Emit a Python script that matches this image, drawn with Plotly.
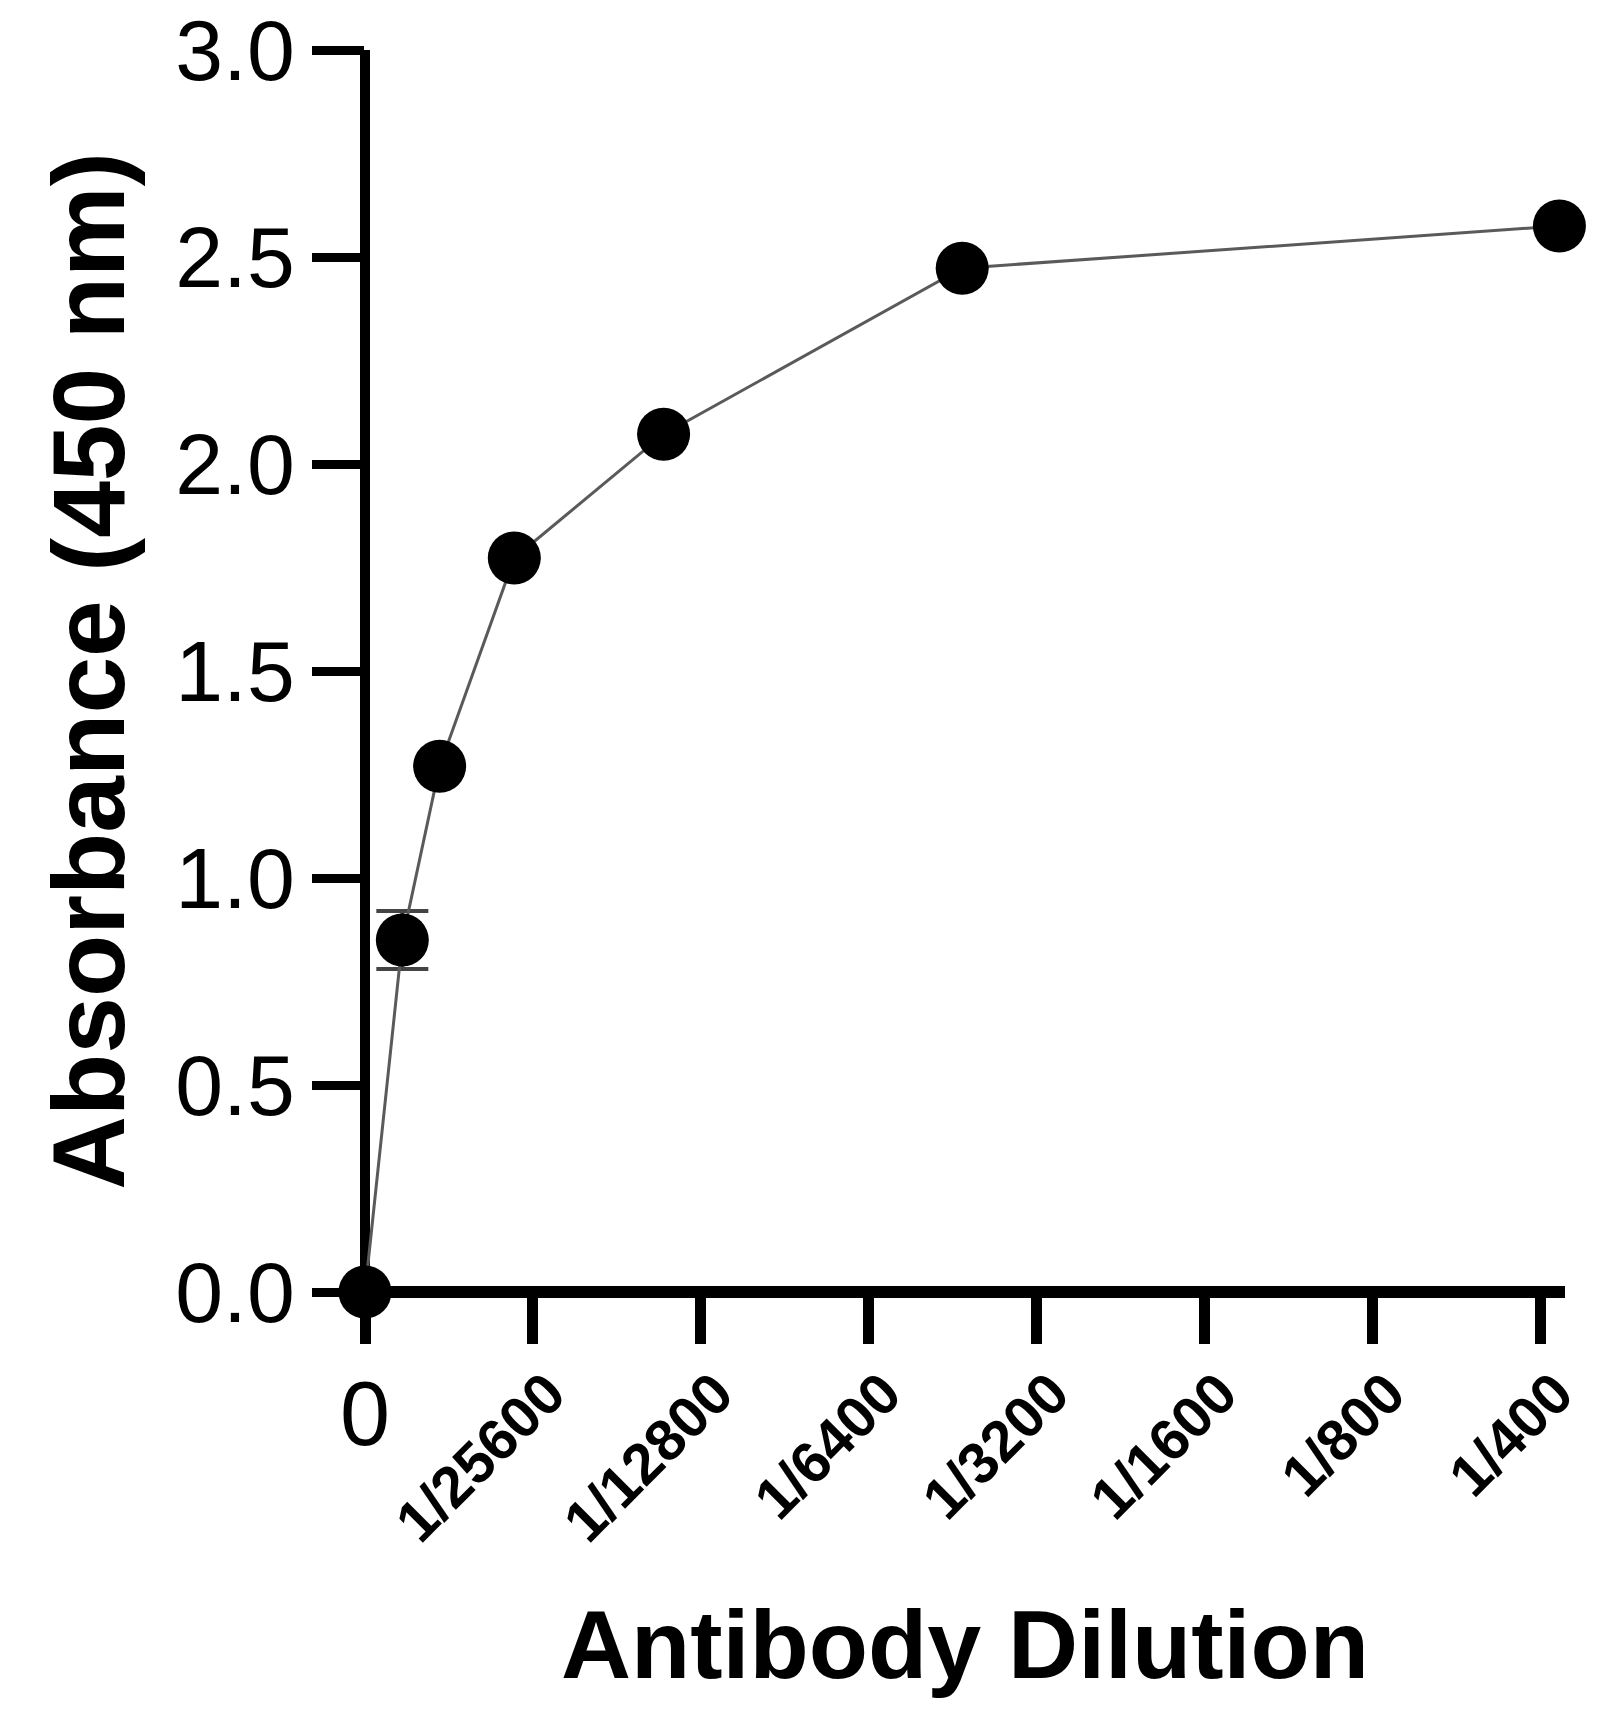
import plotly.graph_objects as go

# Dilution positions expressed in units of 1/25600 (linear concentration scale)
dilution_labels = ["0", "1/12800", "1/6400", "1/3200", "1/1600", "1/800", "1/400"]
x_conc = [0, 2, 4, 8, 16, 32, 64]
absorbance = [0.0, 0.85, 1.27, 1.773, 2.072, 2.473, 2.575]
error_sd = [0.0, 0.07, 0.0, 0.0, 0.0, 0.0, 0.0]

tick_vals = [0, 9, 18, 27, 36, 45, 54, 63]
tick_text = ["", "1/25600", "1/12800", "1/6400", "1/3200", "1/1600", "1/800", "1/400"]
zero_label = "0"

y_ticks = [0.0, 0.5, 1.0, 1.5, 2.0, 2.5, 3.0]

FONT = "Arial, Liberation Sans, sans-serif"

fig = go.Figure()
fig.add_trace(go.Scatter(
    x=x_conc, y=absorbance,
    mode="lines+markers",
    line=dict(color="#5a5a5a", width=3),
    marker=dict(color="black", size=53, line=dict(width=0)),
    error_y=dict(type="data", array=error_sd, visible=True,
                 color="#444444", thickness=4, width=26),
    cliponaxis=False,
    showlegend=False,
    hovertext=dilution_labels,
))

fig.update_layout(
    width=1607, height=1726,
    margin=dict(l=365, r=42, t=50, b=434),
    paper_bgcolor="white", plot_bgcolor="white",
    font=dict(family=FONT, color="black"),
    xaxis=dict(
        range=[0, 64.3],
        tickmode="array", tickvals=tick_vals, ticktext=tick_text,
        tickangle=-45,
        tickfont=dict(family=FONT, size=58, color="black", weight="bold"),
        ticks="outside", ticklen=51, tickwidth=11, tickcolor="black",
        ticklabelshift=15, ticklabelstandoff=-8,
        ticklabeloverflow="allow",
        showline=False, showgrid=False,
        zeroline=True, zerolinecolor="black", zerolinewidth=10,
        title=dict(text="<b>Antibody Dilution</b>",
                   font=dict(family=FONT, size=97, color="black"),
                   standoff=57),
        automargin=False,
    ),
    yaxis=dict(
        range=[0, 3.0],
        tickmode="array", tickvals=y_ticks,
        tickformat=".1f",
        tickfont=dict(family=FONT, size=86, color="black"),
        ticks="outside", ticklen=52, tickwidth=9, tickcolor="black",
        ticklabelstandoff=0,
        ticklabeloverflow="allow",
        showline=False, showgrid=False,
        zeroline=True, zerolinecolor="black", zerolinewidth=12,
        title=dict(text="<b>Absorbance (450 nm)</b>",
                   font=dict(family=FONT, size=102, color="black"),
                   standoff=16),
        automargin=False,
    ),
)

fig.add_annotation(
    x=0, xref="x", y=0, yref="paper",
    text=zero_label, showarrow=False,
    font=dict(family=FONT, size=90, color="black"),
    xanchor="center", yanchor="middle", yshift=-122,
)

fig.write_html("out.html",
               config={"displayModeBar": False},
               post_script="document.body.style.margin='0';")
